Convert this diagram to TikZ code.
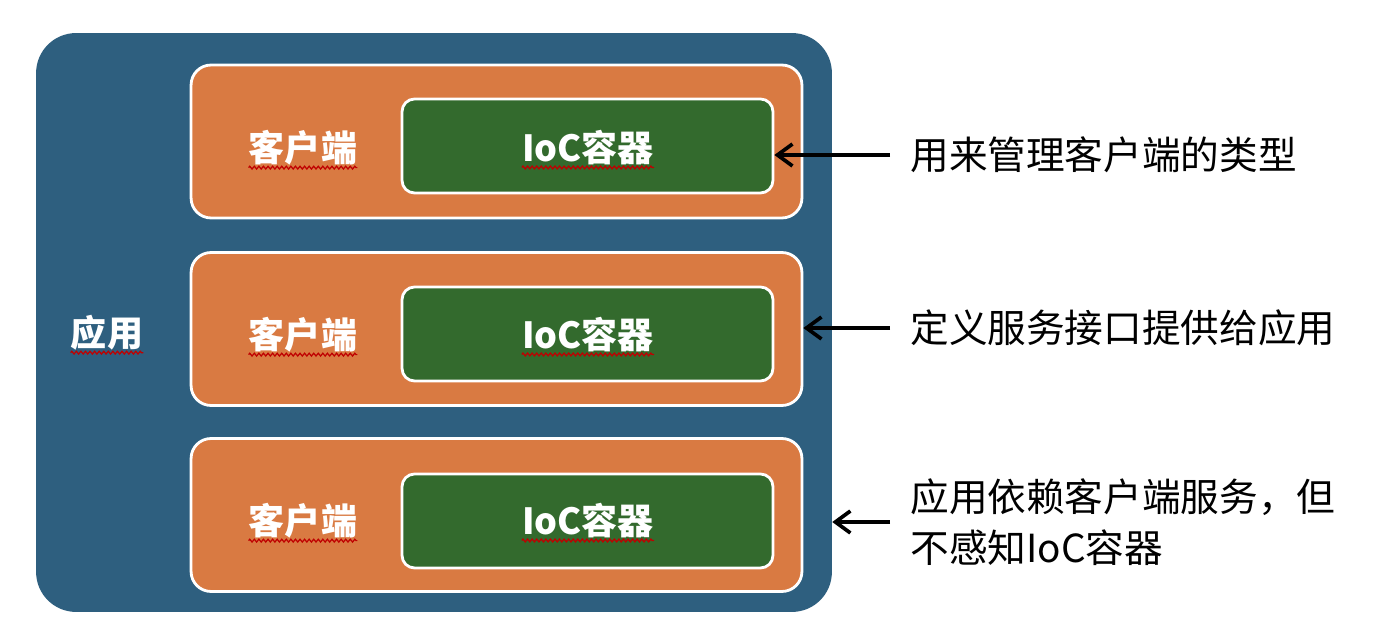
\documentclass[tikz,border=0pt]{standalone}
\usepackage{fontspec}
\usepackage{xcolor}
\setmainfont{Noto Sans CJK SC}
\usepackage{tikz}
\usetikzlibrary{arrows, arrows.meta, positioning, decorations.pathmorphing}
\definecolor{appblue}{HTML}{2E5F7F}
\definecolor{clientorange}{HTML}{D97A42}
\definecolor{iocgreen}{HTML}{336A2D}
\tikzstyle{appbox} = [rectangle, rounded corners = 0.8cm, minimum width = 15.92cm, minimum height = 11.58cm, fill = appblue]
\tikzstyle{clientbox} = [rectangle, rounded corners = 0.4cm, minimum width = 12.22cm, minimum height = 3.06cm, draw = white, line width = 1.6pt, fill = clientorange]
\tikzstyle{iocbox} = [rectangle, rounded corners = 0.25cm, minimum width = 7.42cm, minimum height = 1.88cm, draw = white, line width = 1.6pt, fill = iocgreen]

\begin{document}
\begin{tikzpicture}[x=0.02cm,y=-0.02cm,>={Straight Barb[length=0.3cm,width=0.44cm]}]

% The frame
\useasboundingbox (0,0) rectangle (1374,644);

% Text styles
\tikzset{boxtext/.style={inner sep=0pt, text=white, font=\fontsize{20.5pt}{24pt}\selectfont\bfseries}}
\tikzset{note/.style={inner sep=0pt, anchor=west, align=left, font=\fontsize{22pt}{29pt}\selectfont}}
\tikzset{spell/.style={draw=red!75!black, line width=0.7pt, decorate, decoration={zigzag, segment length=2.6pt, amplitude=0.8pt}}}
\tikzset{pointer/.style={->, line width=2.1pt, shorten <=0.4cm}}

% The application
\node (app) at (434,322.5) [appbox] {};
\node (appname) at (107,333) [boxtext] {应用};
\draw[spell] ([yshift=-1pt]appname.south west) -- ([yshift=-1pt]appname.south east);

% First client
\node (client1) at (496.5,141.5) [clientbox] {};
\node (ioc1) at (587.5,146) [iocbox] {};
\node (cname1) at (303,148) [boxtext] {客户端};
\node (ioctext1) at (588,148) [boxtext] {IoC容器};
\draw[spell] ([yshift=-1pt]cname1.south west) -- ([yshift=-1pt]cname1.south east);
\draw[spell] ([yshift=-1pt]ioctext1.south west) -- ([yshift=-1pt]ioctext1.south east);

% Second client
\node (client2) at (496.5,329) [clientbox] {};
\node (ioc2) at (587.5,334) [iocbox] {};
\node (cname2) at (303,335) [boxtext] {客户端};
\node (ioctext2) at (588,335) [boxtext] {IoC容器};
\draw[spell] ([yshift=-1pt]cname2.south west) -- ([yshift=-1pt]cname2.south east);
\draw[spell] ([yshift=-1pt]ioctext2.south west) -- ([yshift=-1pt]ioctext2.south east);

% Third client
\node (client3) at (496.5,515) [clientbox] {};
\node (ioc3) at (587.5,521) [iocbox] {};
\node (cname3) at (303,521) [boxtext] {客户端};
\node (ioctext3) at (588,521) [boxtext] {IoC容器};
\draw[spell] ([yshift=-1pt]cname3.south west) -- ([yshift=-1pt]cname3.south east);
\draw[spell] ([yshift=-1pt]ioctext3.south west) -- ([yshift=-1pt]ioctext3.south east);

% Notes and arrows
\node (note1) at (910,155) [note] {用来管理客户端的类型};
\node (note2) at (910,328) [note] {定义服务接口提供给应用};
\node (note3) at (910,522) [note] {应用依赖客户端服务，但\\不感知IoC容器};
\draw[pointer] (note1.west) -- (note1.west -| ioc1.east);
\draw[pointer] (note2.west) -- (note2.west -| client2.east);
\draw[pointer] (note3.west) -- (note3.west -| app.east);

\end{tikzpicture}
\end{document}
